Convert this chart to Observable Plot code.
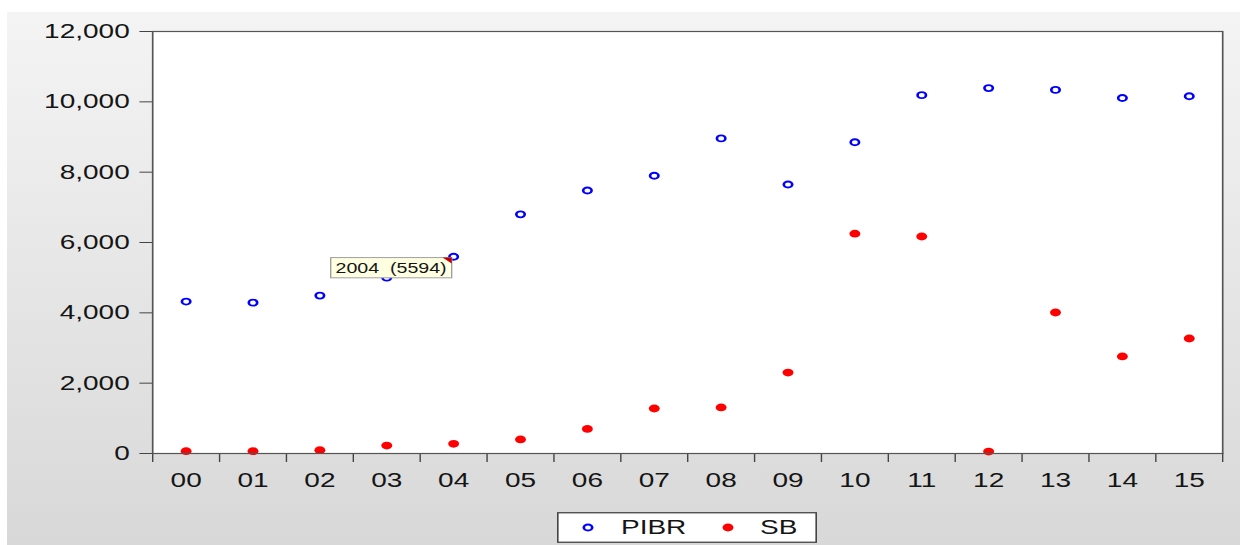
<!DOCTYPE html>
<html><head><meta charset="utf-8">
<script src="https://cdn.jsdelivr.net/npm/d3@7"></script>
<script src="https://cdn.jsdelivr.net/npm/@observablehq/plot@0.6"></script>
<style>
html,body{margin:0;padding:0;background:#fff;}
#wrap{position:relative;width:1240px;height:545px;overflow:hidden;}
#bg{position:absolute;left:7px;top:12px;right:0;bottom:0;background:linear-gradient(#f4f4f4,#d8d8d8);}
#chart{position:absolute;left:0;top:0;}
#legend{position:absolute;left:557px;top:512px;width:260px;height:31px;}
</style></head><body>
<div id="wrap"><div id="bg"></div><div id="chart"></div><div id="legend"></div></div>
<script>
const years = ["00","01","02","03","04","05","06","07","08","09","10","11","12","13","14","15"];
const pibr = [4320, 4290, 4490, 5000, 5594, 6800, 7480, 7900, 8960, 7650, 8850, 10190, 10390, 10340, 10110, 10160];
const sb = [65, 65, 95, 225, 275, 400, 700, 1280, 1310, 2300, 6250, 6170, 55, 4010, 2760, 3270];
const seriesNames = ["PIBR", "SB"];
const yTicks = [0, 2000, 4000, 6000, 8000, 10000, 12000];
const tipIndex = 4;
const tipValue = 5594;
const tipLabel = "2004\u00a0 (5594)";

const S = 1.4;            // horizontal stretch of the source picture
const W = 1240 / S, H = 500;
const rows = years.map((y, i) => ({i, year: y, pibr: pibr[i], sb: sb[i]}));
const boundaries = d3.range(years.length + 1).map(k => k - 0.5);
const FONT = "'Liberation Sans', Arial, sans-serif";

const plot = Plot.plot({
  width: W, height: H,
  marginLeft: 152 / S, marginRight: (1240 - 1222) / S, marginTop: 31, marginBottom: H - 453,
  style: {background: "transparent", fontFamily: FONT, fontSize: "20px", color: "#151515", overflow: "visible"},
  x: {domain: [-0.5, years.length - 0.5]},
  y: {domain: [0, 12000]},
  marks: [
    Plot.frame({fill: "white", stroke: null}),
    Plot.axisY({ticks: yTicks, tickSize: 9, tickPadding: 7.4, stroke: "#444", label: null, tickFormat: d3.format(",")}),
    Plot.axisX({ticks: boundaries, tickSize: 9, stroke: "#444", label: null, tickFormat: () => ""}),
    Plot.axisX({ticks: d3.range(years.length), tickSize: 0, tickPadding: 19, label: null, tickFormat: i => years[i]}),
    Plot.dot(rows, {x: "i", y: "pibr", r: 3.0, stroke: "#0000ff", strokeWidth: 1.9, fill: "none"}),
    Plot.dot(rows, {x: "i", y: "sb", r: 3.9, fill: "#ff0000", stroke: null}),
    Plot.frame({stroke: "#555", strokeWidth: 1.2, fill: "none"}),
    Plot.text([{i: tipIndex, v: tipValue}], {x: "i", y: "v", text: () => tipLabel, textAnchor: "end", lineAnchor: "top",
      dx: -5, dy: 6, fontSize: 14, fill: "#151515"})
  ]
});

plot.setAttribute("width", 1240);
plot.setAttribute("height", H);
plot.setAttribute("viewBox", `0 0 ${W} ${H}`);
plot.setAttribute("preserveAspectRatio", "none");
plot.style.width = "1240px";
plot.style.height = H + "px";
plot.style.maxWidth = "none";
document.getElementById("chart").appendChild(plot);

// tooltip box behind the label
const tipText = Array.from(plot.querySelectorAll("text")).find(t => t.textContent === tipLabel);
if (tipText) {
  const bb = tipText.getBBox();
  const ns = "http://www.w3.org/2000/svg";
  const g = tipText.parentNode;
  const x0 = bb.x - 3.5, x1 = bb.x + bb.width + 3.6, y0 = bb.y - 2.8, h = bb.height + 4.6;
  const rect = document.createElementNS(ns, "rect");
  rect.setAttribute("x", x0); rect.setAttribute("y", y0);
  rect.setAttribute("width", x1 - x0); rect.setAttribute("height", h);
  rect.setAttribute("fill", "#ffffe1"); rect.setAttribute("stroke", "#a0a0a0"); rect.setAttribute("stroke-width", 1);
  const tri = document.createElementNS(ns, "path");
  tri.setAttribute("d", `M${x1 - 6.5},${y0}L${x1},${y0}L${x1},${y0 + 6}Z`);
  tri.setAttribute("fill", "#c00000");
  const t = tipText.getAttribute("transform");
  if (t) { rect.setAttribute("transform", t); tri.setAttribute("transform", t); }
  g.insertBefore(rect, tipText);
  g.appendChild(tri);
}

// legend (stretched like the chart)
const LW = 260 / S;
const leg = d3.select("#legend").append("svg")
  .attr("width", 260).attr("height", 31)
  .attr("viewBox", `0 0 ${LW} 31`).attr("preserveAspectRatio", "none")
  .style("display", "block").style("font-family", FONT);
leg.append("rect").attr("x", 0.5).attr("y", 0.75).attr("width", LW - 1).attr("height", 29.5)
  .attr("fill", "white").attr("stroke", "#444").attr("stroke-width", 1.3);
leg.append("circle").attr("cx", (588 - 557) / S).attr("cy", 15.5).attr("r", 3.0)
  .attr("fill", "none").attr("stroke", "#0000ff").attr("stroke-width", 1.9);
leg.append("text").attr("x", (621 - 557) / S).attr("y", 22.4).attr("font-size", 20).attr("fill", "#151515").text(seriesNames[0]);
leg.append("circle").attr("cx", (728 - 557) / S).attr("cy", 15.5).attr("r", 3.9).attr("fill", "#ff0000");
leg.append("text").attr("x", (760 - 557) / S).attr("y", 22.4).attr("font-size", 20).attr("fill", "#151515").text(seriesNames[1]);
</script>
</body></html>
